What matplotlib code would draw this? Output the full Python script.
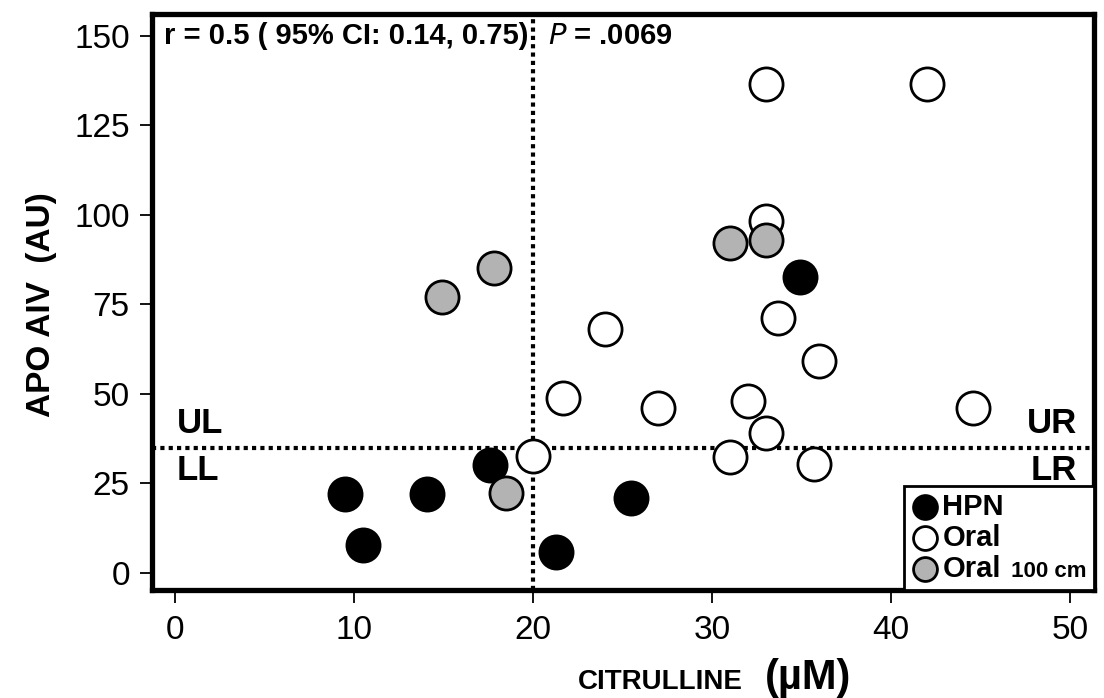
import matplotlib
matplotlib.use("Agg")
import matplotlib.pyplot as plt
from matplotlib.offsetbox import TextArea

plt.rcParams['font.family'] = ['Liberation Sans', 'DejaVu Sans']

# citrulline (uM) vs APO AIV (AU)
hpn_x = [9.5, 10.5, 14.1, 17.6, 21.3, 25.5, 34.9]
hpn_y = [22.0, 7.8, 22.0, 30.2, 5.8, 20.9, 82.6]

oral_x = [20.0, 21.7, 24.0, 27.0, 31.0, 32.0, 33.0, 33.0, 33.7, 35.7, 36.0, 33.0, 42.0, 44.6]
oral_y = [32.7, 48.8, 68.2, 46.0, 32.3, 48.1, 39.0, 98.2, 71.3, 30.4, 59.2, 136.5, 136.5, 46.1]

oral100_x = [14.9, 17.8, 18.5, 31.0, 33.0]
oral100_y = [77.1, 85.2, 22.3, 92.1, 93.0]

xticks = [0, 10, 20, 30, 40, 50]
yticks = [0, 25, 50, 75, 100, 125, 150]
cut_x = 20
cut_y = 34.8

fig = plt.figure(figsize=(11.04, 6.98), dpi=100)
ax = fig.add_axes([0.1377, 0.1547, 0.991 - 0.1377, 0.980 - 0.1547])

ax.axvline(cut_x, color='black', lw=3, ls=(0, (1, 1)), zorder=1)
ax.axhline(cut_y, color='black', lw=3, ls=(0, (1, 1)), zorder=1)

ms = 570
ax.scatter(hpn_x, hpn_y, s=ms, c='black', edgecolors='black', linewidths=2, label='HPN', zorder=3)
ax.scatter(oral_x, oral_y, s=ms, c='white', edgecolors='black', linewidths=2, label='Oral', zorder=3)
ax.scatter(oral100_x, oral100_y, s=ms, c='#b3b3b3', edgecolors='black', linewidths=2,
           label='Oral', zorder=4)

ax.set_xlim(-1.28, 51.34)
ax.set_ylim(-4.75, 156.1)
ax.set_xticks(xticks)
ax.set_yticks(yticks)
ax.tick_params(axis='both', labelsize=24, length=9, width=1.3)
ax.tick_params(axis='x', pad=9)
ax.tick_params(axis='y', pad=7)
for sp in ax.spines.values():
    sp.set_linewidth(3.8)

qfont = dict(fontsize=25, fontweight='bold', va='center')
ax.text(0.1, 41.8, 'UL', ha='left', **qfont)
ax.text(0.1, 28.6, 'LL', ha='left', **qfont)
ax.text(50.4, 41.8, 'UR', ha='right', **qfont)
ax.text(50.4, 28.6, 'LR', ha='right', **qfont)

ax.text(-0.6, 150, 'r = 0.5 ( 95% CI: 0.14, 0.75)', fontsize=21, fontweight='bold', va='center')
ax.text(20.85, 150, '$\\mathbf{\\it{P}}$ = .0069', fontsize=21, fontweight='bold', va='center')

leg = ax.legend(loc='lower right', bbox_to_anchor=(1.0, 0.0), borderaxespad=0,
                fancybox=False, edgecolor='black', framealpha=1,
                prop={'size': 21, 'weight': 'bold'}, handletextpad=0.15,
                handlelength=0.9, labelspacing=0.1, borderpad=0.25,
                markerscale=0.72)
leg.get_frame().set_linewidth(2)
leg.set_zorder(5)

# small "100 cm" after the third label, packed into the same legend row
extra = TextArea(' 100 cm', textprops=dict(size=16, weight='bold'))
extra.set_figure(fig)
extra._text.set_figure(fig)
row = leg._legend_handle_box.get_children()[0].get_children()[2]
row.get_children().append(extra)

fig.text(42 / 1104, 1 - 305 / 698, 'APO AIV  (AU)', rotation=90, fontsize=24,
         fontweight='bold', ha='center', va='center')
fig.text(660 / 1104, 1 - 682 / 698, 'CITRULLINE', fontsize=20, fontweight='bold',
         ha='center', va='center')
fig.text(808 / 1104, 1 - 678 / 698, '(µM)', fontsize=30, fontweight='bold',
         ha='center', va='center')

fig.savefig('out.png', dpi=100)
